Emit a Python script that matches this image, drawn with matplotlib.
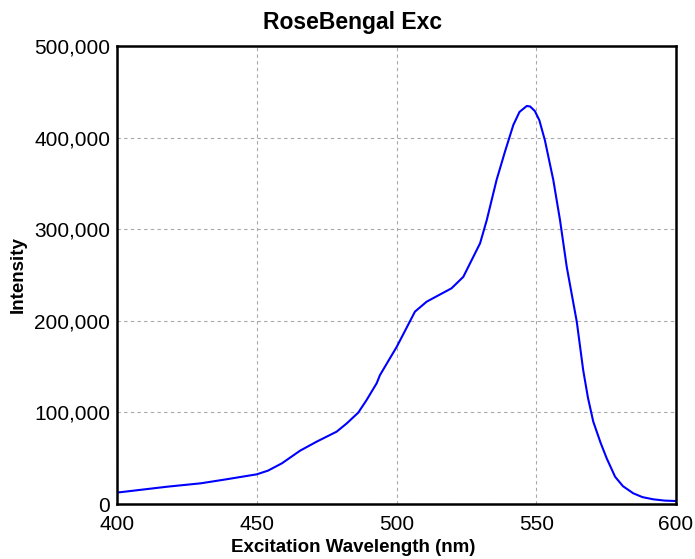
import numpy as np
import matplotlib.pyplot as plt
from matplotlib.ticker import FuncFormatter

# excitation spectrum
wavelength = [400, 401, 418, 430, 439, 450, 454, 459, 465.5, 471.4, 478.6, 482.2,
              486.3, 489.3, 492.9, 494.1, 500.1, 506.6, 510.8, 519.7, 523.9, 529.9,
              532.3, 535.8, 538.8, 541.8, 544, 546.6, 547.8, 549.5, 551.1, 553.1,
              556.1, 558.5, 560.9, 564.5, 566.8, 568.5, 570.4, 573, 575.2, 578.2,
              581, 584.7, 588, 591.9, 596, 599.6]
intensity = [12700, 12800, 18900, 22600, 26900, 32400, 36400, 44400, 58200, 68000,
             79000, 88000, 99700, 113500, 131800, 140800, 171700, 210000, 220900,
             235500, 248000, 284600, 310000, 353700, 384600, 413800, 428000, 434500,
             434000, 429000, 419000, 397000, 353700, 310000, 259000, 199000, 146000,
             116000, 89900, 67000, 49900, 29800, 19500, 11700, 7500, 5100, 3700, 3300]

title = 'RoseBengal Exc'
x_label = 'Excitation Wavelength (nm)'
y_label = 'Intensity'
x_ticks = [400, 450, 500, 550, 600]
y_ticks = [0, 100000, 200000, 300000, 400000, 500000]

plt.rcParams['font.family'] = ['Liberation Sans', 'DejaVu Sans']

fig = plt.figure(figsize=(6.95, 5.59), dpi=100)
ax = fig.add_axes([117 / 695, 55 / 559, 559 / 695, 458 / 559])

ax.plot(wavelength, intensity, color='#0000ff', linewidth=1.5)

ax.set_xlim(400, 600)
ax.set_ylim(0, 500000)
ax.set_xticks(x_ticks)
ax.set_yticks(y_ticks)
ax.yaxis.set_major_formatter(FuncFormatter(lambda v, p: f'{int(v):,}'))
ax.tick_params(length=0, labelsize=15)
ax.tick_params(axis='x', pad=8)
ax.tick_params(axis='y', pad=5)

ax.grid(True, color='#a8a8a8', linestyle=(0, (3, 3)), linewidth=0.8)
for s in ax.spines.values():
    s.set_linewidth(1.8)
    s.set_color('black')

fig.text(353 / 695, 1 - 22 / 559, title, ha='center', va='center',
         fontsize=16.5, fontweight='bold')
fig.text(353 / 695, 1 - 548 / 559, x_label, ha='center', va='center',
         fontsize=13.5, fontweight='bold')
fig.text(18 / 695, 1 - 275 / 559, y_label, ha='center', va='center',
         fontsize=13.5, fontweight='bold', rotation=90)

fig.savefig('out.png', dpi=100)
